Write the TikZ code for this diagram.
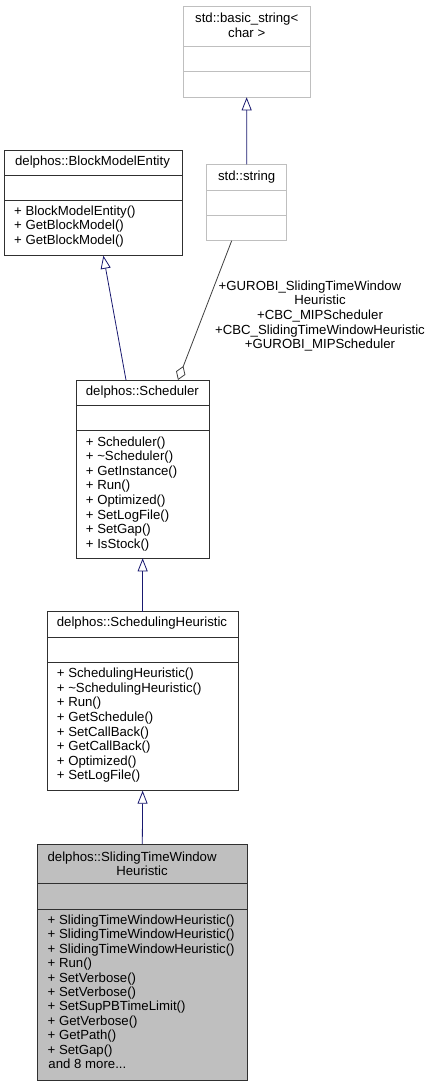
\documentclass[tikz,border=0pt]{standalone}
\usepackage{fontspec}
\setmainfont{Liberation Sans}
\usetikzlibrary{arrows.meta}
\definecolor{edgeblue}{HTML}{191970}
\definecolor{aggray}{HTML}{404040}
\definecolor{lightgr}{HTML}{BFBFBF}
\definecolor{boxline}{HTML}{303030}
\tikzset{
  txt/.style={font=\fontsize{13.2}{14.6}\selectfont, inner sep=0pt, outer sep=0pt},
  cls/.style={draw=boxline, line width=1pt, anchor=north west, inner sep=0pt, outer sep=0pt},
  refcls/.style={draw=lightgr, line width=1pt, anchor=north west, inner sep=0pt, outer sep=0pt},
  curcls/.style={draw=boxline, fill=lightgr, line width=1pt, anchor=north west, inner sep=0pt, outer sep=0pt},
  inh/.style={draw=edgeblue, line width=0.8pt, -{Triangle[open, length=13pt, width=10pt]}},
  agg/.style={draw=aggray, line width=0.8pt, {Diamond[open, length=15pt, width=10pt]}-},
}
\begin{document}
\begin{tikzpicture}[x=1pt,y=-1pt]
\useasboundingbox (0,0) rectangle (432,1088);
\fill[white] (0,0) rectangle (432,1088);

% std::basic_string<char>
\node[refcls, minimum width=126.7pt, minimum height=90.6pt] (bstr) at (183.3,6.7) {};
\draw[lightgr, line width=1pt] (bstr.west |- 0,46.7) -- (bstr.east |- 0,46.7);
\draw[lightgr, line width=1pt] (bstr.west |- 0,71.7) -- (bstr.east |- 0,71.7);
\node[txt, anchor=base] (bstr-t1) at (246.7,22.3) {std::basic\_string<};
\node[txt, anchor=base] (bstr-t2) at (246.7,37) {char >};

% std::string
\node[refcls, minimum width=80pt, minimum height=76.4pt] (str) at (206.7,164.3) {};
\draw[lightgr, line width=1pt] (str.west |- 0,190.3) -- (str.east |- 0,190.3);
\draw[lightgr, line width=1pt] (str.west |- 0,215.3) -- (str.east |- 0,215.3);
\node[txt, anchor=base] (str-t) at (246.7,180.1) {std::string};

% delphos::BlockModelEntity
\node[cls, minimum width=177.3pt, minimum height=105.7pt] (bme) at (4.7,150) {};
\draw[boxline, line width=1pt] (bme.west |- 0,175) -- (bme.east |- 0,175);
\draw[boxline, line width=1pt] (bme.west |- 0,200.7) -- (bme.east |- 0,200.7);
\node[txt, anchor=base] (bme-t) at (92.5,165.8) {delphos::BlockModelEntity};
\foreach \t [count=\i from 0] in {{+ BlockModelEntity()},{+ GetBlockModel()},{+ GetBlockModel()}}
  \node[txt, anchor=base west] (bme-m\i) at (14.2,215.7+\i*14.2) {\t};

% delphos::Scheduler
\node[cls, minimum width=133.3pt, minimum height=178.3pt] (sch) at (76,380) {};
\draw[boxline, line width=1pt] (sch.west |- 0,405.3) -- (sch.east |- 0,405.3);
\draw[boxline, line width=1pt] (sch.west |- 0,430.7) -- (sch.east |- 0,430.7);
\node[txt, anchor=base] (sch-t) at (142.4,395.1) {delphos::Scheduler};
\foreach \t [count=\i from 0] in {{+ Scheduler()},{+ \textasciitilde Scheduler()},{+ GetInstance()},{+ Run()},{+ Optimized()},{+ SetLogFile()},{+ SetGap()},{+ IsStock()}}
  \node[txt, anchor=base west] (sch-m\i) at (85.9,446.1+\i*14.6) {\t};

% delphos::SchedulingHeuristic
\node[cls, minimum width=190.7pt, minimum height=179pt] (sh) at (47.3,611.7) {};
\draw[boxline, line width=1pt] (sh.west |- 0,637.3) -- (sh.east |- 0,637.3);
\draw[boxline, line width=1pt] (sh.west |- 0,662.7) -- (sh.east |- 0,662.7);
\node[txt, anchor=base] (sh-t) at (142,626.8) {delphos::SchedulingHeuristic};
\foreach \t [count=\i from 0] in {{+ SchedulingHeuristic()},{+ \textasciitilde SchedulingHeuristic()},{+ Run()},{+ GetSchedule()},{+ SetCallBack()},{+ GetCallBack()},{+ Optimized()},{+ SetLogFile()}}
  \node[txt, anchor=base west] (sh-m\i) at (56.9,677.7+\i*14.6) {\t};

% delphos::SlidingTimeWindowHeuristic
\node[curcls, minimum width=210pt, minimum height=236.7pt] (stw) at (37.3,844) {};
\draw[boxline, line width=1pt] (stw.west |- 0,883.3) -- (stw.east |- 0,883.3);
\draw[boxline, line width=1pt] (stw.west |- 0,909.3) -- (stw.east |- 0,909.3);
\node[txt, anchor=base west] (stw-t1) at (47.6,861.2) {delphos::SlidingTimeWindow};
\node[txt, anchor=base] (stw-t2) at (142,875.4) {Heuristic};
\foreach \t [count=\i from 0] in {{+ SlidingTimeWindowHeuristic()},{+ SlidingTimeWindowHeuristic()},{+ SlidingTimeWindowHeuristic()},{+ Run()},{+ SetVerbose()},{+ SetVerbose()},{+ SetSupPBTimeLimit()},{+ GetVerbose()},{+ GetPath()},{+ SetGap()}}
  \node[txt, anchor=base west] (stw-m\i) at (47.7,924.4+\i*14.42) {\t};
\node[txt, anchor=base west] (stw-more) at (48.5,1068.6) {and 8 more...};

% connectors
\draw[inh] (str.north) -- (bstr.south);
\draw[inh] ([xshift=50pt]sch.north west) -- ([xshift=10pt]bme.south);
\draw[inh] (sh.north) -- (sch.south);
\draw[inh] (stw.north) -- (sh.south);
\draw[agg] ([xshift=102pt]sch.north west) -- ([xshift=-15pt]str.south);

% label
\node[txt, align=center] (lbl) at (320,316) {+GUROBI\_SlidingTimeWindow\kern20pt\\Heuristic\\+CBC\_MIPScheduler\\+CBC\_SlidingTimeWindowHeuristic\\+GUROBI\_MIPScheduler};
\end{tikzpicture}
\end{document}
